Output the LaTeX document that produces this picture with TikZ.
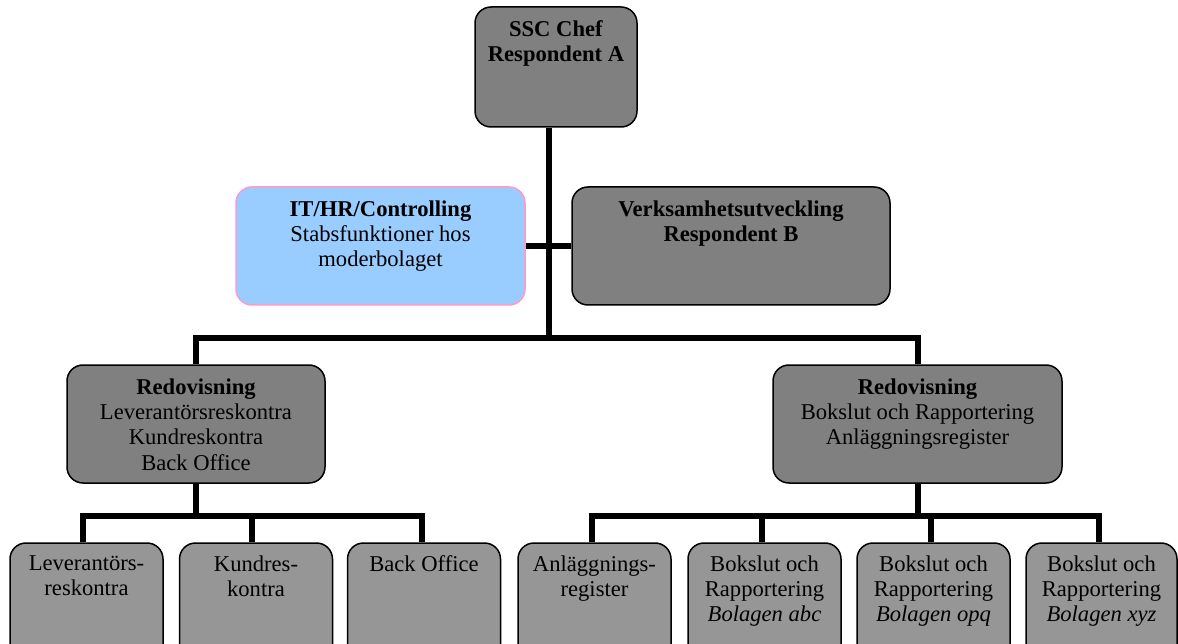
\documentclass[tikz,border=0pt]{standalone}
\usepackage{fontspec}
\setmainfont{Liberation Serif}
\begin{document}
\begin{tikzpicture}[x=1pt,y=-1pt,
  box/.style={draw=black,line width=1.5pt,rounded corners=16pt,inner sep=0pt},
  upper/.style={box,fill=boxdark},
  lower/.style={box,fill=boxlight,minimum width=153pt,minimum height=125pt},
  staff/.style={draw=staffpink,line width=1.5pt,rounded corners=16pt,fill=staffblue,inner sep=0pt},
  label/.style={anchor=north,inner sep=0pt,align=center,font=\fontsize{22.6}{25.4}\selectfont},
  conn/.style={line width=6pt,line join=miter}]
\definecolor{boxdark}{HTML}{808080}
\definecolor{boxlight}{HTML}{969696}
\definecolor{staffblue}{HTML}{99CCFF}
\definecolor{staffpink}{HTML}{FF99CC}
\useasboundingbox (0,0) rectangle (1178,644);

% boxes
\node[upper,minimum width=162pt,minimum height=120pt] (ssc) at (556,67) {};
\node[staff,minimum width=289pt,minimum height=118pt] (it) at (380.5,246) {};
\node[upper,minimum width=318pt,minimum height=118pt] (verk) at (731,246) {};
\node[upper,minimum width=258pt,minimum height=118pt] (redL) at (196,424) {};
\node[upper,minimum width=289pt,minimum height=118pt] (redR) at (917.5,424) {};
\node[lower] (b1) at (86.5,605.5) {};
\node[lower] (b2) at (256,605.5) {};
\node[lower] (b3) at (424,605.5) {};
\node[lower] (b4) at (594.5,605.5) {};
\node[lower] (b5) at (764.5,605.5) {};
\node[lower] (b6) at (933.5,605.5) {};
\node[lower,minimum width=151pt] (b7) at (1101.5,605.5) {};

% texts
\node[label] (tssc) at ([yshift=-14pt]ssc.north) {\textbf{SSC Chef}\\\textbf{Respondent A}};
\node[label] (tit) at ([yshift=-14pt]it.north) {\textbf{IT/HR/Controlling}\\Stabsfunktioner hos\\moderbolaget};
\node[label] (tverk) at ([yshift=-14pt]verk.north) {\textbf{Verksamhetsutveckling}\\\textbf{Respondent B}};
\node[label] (tredL) at ([yshift=-14pt]redL.north) {\textbf{Redovisning}\\Leverantörsreskontra\\Kundreskontra\\Back Office};
\node[label] (tredR) at ([yshift=-14pt]redR.north) {\textbf{Redovisning}\\Bokslut och Rapportering\\Anläggningsregister};
\node[label] (tb1) at ([yshift=-13pt]b1.north) {Leverantörs-\\reskontra};
\node[label] (tb2) at ([yshift=-13pt]b2.north) {Kundres-\\kontra};
\node[label] (tb3) at ([yshift=-13pt]b3.north) {Back Office};
\node[label] (tb4) at ([yshift=-13pt]b4.north) {Anläggnings-\\register};
\node[label] (tb5) at ([yshift=-13pt]b5.north) {Bokslut och\\Rapportering\\\textit{Bolagen abc}};
\node[label] (tb6) at ([yshift=-13pt]b6.north) {Bokslut och\\Rapportering\\\textit{Bolagen opq}};
\node[label] (tb7) at ([yshift=-13pt]b7.north) {Bokslut och\\Rapportering\\\textit{Bolagen xyz}};

% junction points
\coordinate (hub) at (549,338);
\coordinate (jl) at (196,516);
\coordinate (jr) at (917.5,516);

% connectors
\draw[conn] (ssc.south -| hub) -- (hub);
\draw[conn] (it.east) -- (verk.west);
\draw[conn] (redL.north) |- (hub) -| (redR.north);
\draw[conn] (redL.south) -- (jl);
\draw[conn] ([xshift=-4pt]b1.north) |- (jl) -| ([xshift=-2pt]b3.north);
\draw[conn] ([xshift=-4pt]b2.north) -- ([xshift=-4pt]b2.north |- jl);
\draw[conn] (redR.south) -- (jr);
\draw[conn] ([xshift=-3pt]b4.north) |- (jr) -| ([xshift=-3pt]b7.north);
\draw[conn] ([xshift=-3pt]b5.north) -- ([xshift=-3pt]b5.north |- jr);
\draw[conn] ([xshift=-3pt]b6.north) -- ([xshift=-3pt]b6.north |- jr);
\end{tikzpicture}
\end{document}
